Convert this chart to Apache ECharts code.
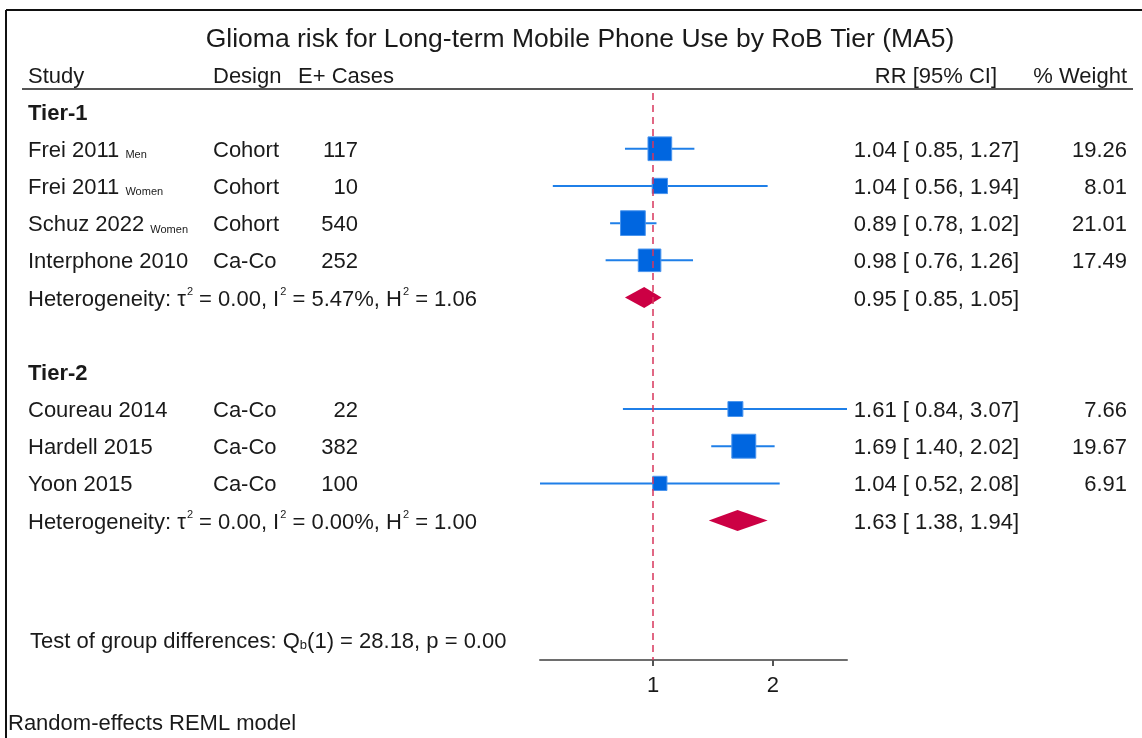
<!DOCTYPE html>
<html>
<head>
<meta charset="utf-8">
<script src="https://cdn.jsdelivr.net/npm/echarts@6/dist/echarts.min.js"></script>
<style>
  html, body { margin: 0; padding: 0; background: #fff; }
  #chart { width: 1142px; height: 738px; }
</style>
</head>
<body>
<div id="chart"></div>
<script>
// study rows
const studies = ['Frei 2011', 'Frei 2011', 'Schuz 2022', 'Interphone 2010', 'Coureau 2014', 'Hardell 2015', 'Yoon 2015']
const subgroups = ['Men', 'Women', 'Women', '', '', '', '']
const designs = ['Cohort', 'Cohort', 'Cohort', 'Ca-Co', 'Ca-Co', 'Ca-Co', 'Ca-Co']
const cases = [117, 10, 540, 252, 22, 382, 100]
const rr = [1.04, 1.04, 0.89, 0.98, 1.61, 1.69, 1.04]
const lower = [0.85, 0.56, 0.78, 0.76, 0.84, 1.40, 0.52]
const upper = [1.27, 1.94, 1.02, 1.26, 3.07, 2.02, 2.08]
const weights = [19.26, 8.01, 21.01, 17.49, 7.66, 19.67, 6.91]
const studyRows = [1, 2, 3, 4, 8, 9, 10]

// subgroup rows
const tiers = ['Tier-1', 'Tier-2']
const tierRows = [0, 7]
const pooledRR = [0.95, 1.63]
const pooledLower = [0.85, 1.38]
const pooledUpper = [1.05, 1.94]
const pooledRows = [5, 11]
const hetTau2 = ['0.00', '0.00']
const hetI2 = ['5.47%', '0.00%']
const hetH2 = ['1.06', '1.00']

const xTicks = [1, 2]
const xMin = 0.52
const xMax = 3.07

const FONT = '"Liberation Sans", Arial, sans-serif'
const TXT = '#1a1a1a'
const COL = { study: 28, design: 213, cases: 358, rr: 1019, weight: 1127 }

const chart = echarts.init(document.getElementById('chart'))

// canvas 'middle' sits a little high, nudge text down
function text(x, y, str, align, extra) {
  return {
    type: 'text', x: x, y: y + 2, silent: true,
    style: Object.assign({
      text: str, fill: TXT, fontFamily: FONT, fontSize: 22,
      align: align || 'left', verticalAlign: 'middle'
    }, extra || {})
  }
}

const supRich = {
  t: { fontFamily: FONT, fontSize: 22, color: TXT, lineHeight: 26 },
  p: { fontFamily: FONT, fontSize: 11, color: TXT, lineHeight: 26, verticalAlign: 'top', padding: [0, 0, 0, 1] },
  s: { fontFamily: FONT, fontSize: 11, color: TXT, verticalAlign: 'bottom', padding: [0, 0, 3, 0] },
  b: { fontFamily: FONT, fontSize: 13, color: TXT, verticalAlign: 'bottom', padding: [0, 0, 3, 0] }
}

const fmt = v => v.toFixed(2)

const studyData = rr.map((v, i) => [v, studyRows[i], lower[i], upper[i], weights[i]])
const pooledData = pooledRR.map((v, i) => [v, pooledRows[i], pooledLower[i], pooledUpper[i]])

const option = {
  animation: false,
  grid: { left: 540, right: 295, top: 93, bottom: 78 },
  xAxis: {
    type: 'log',
    logBase: 2,
    min: xMin,
    max: xMax,
    position: 'bottom',
    axisLine: { onZero: false, lineStyle: { color: '#6e6e6e', width: 2 } },
    axisTick: { customValues: xTicks, length: 6, lineStyle: { color: '#555', width: 2 } },
    axisLabel: { customValues: xTicks, fontSize: 22, color: TXT, fontFamily: FONT, margin: 15 },
    splitLine: { show: false },
    minorTick: { show: false }
  },
  yAxis: { type: 'value', inverse: true, min: -0.5, max: 14.75, show: false },
  graphic: [
    { type: 'line', shape: { x1: 6, y1: 10, x2: 1142, y2: 10 }, style: { stroke: '#111', lineWidth: 2 } },
    { type: 'line', shape: { x1: 6, y1: 10, x2: 6, y2: 738 }, style: { stroke: '#111', lineWidth: 2 } },
    { type: 'line', shape: { x1: 22, y1: 89, x2: 1133, y2: 89 }, style: { stroke: '#555', lineWidth: 2 } },
    text(580, 38, 'Glioma risk for Long-term Mobile Phone Use by RoB Tier (MA5)', 'center', { fontSize: 26.5 }),
    text(COL.study, 75, 'Study'),
    text(COL.design, 75, 'Design'),
    text(298, 75, 'E+ Cases'),
    text(997, 75, 'RR [95% CI]', 'right'),
    text(COL.weight, 75, '% Weight', 'right'),
    text(30, 640, '{t|Test of group differences: Q}{b|b}{t|(1) = 28.18, p = 0.00}', 'left', { rich: supRich }),
    text(8, 722, 'Random-effects REML model')
  ],
  series: [
    {
      // study estimates: CI line + weighted square
      type: 'custom',
      data: studyData,
      encode: { x: 0, y: 1 },
      clip: false,
      renderItem: function (params, api) {
        const row = api.value(1)
        const c = api.coord([api.value(0), row])
        const l = api.coord([api.value(2), row])
        const u = api.coord([api.value(3), row])
        const s = 5.4 * Math.sqrt(api.value(4))
        return {
          type: 'group',
          children: [
            { type: 'line', shape: { x1: l[0], y1: c[1], x2: u[0], y2: c[1] }, style: { stroke: '#1f7fe8', lineWidth: 2 } },
            { type: 'rect', shape: { x: c[0] - s / 2, y: c[1] - s / 2, width: s, height: s }, style: { fill: '#0066e0', stroke: '#4a95ee', lineWidth: 1 } }
          ]
        }
      },
      markLine: {
        silent: true,
        symbol: 'none',
        label: { show: false },
        lineStyle: { color: '#d8365c', width: 1.5, type: [7, 5] },
        data: [{ xAxis: 1 }]
      },
      z: 3
    },
    {
      // pooled estimates: diamonds
      type: 'custom',
      data: pooledData,
      encode: { x: 0, y: 1 },
      clip: false,
      renderItem: function (params, api) {
        const row = api.value(1)
        const c = api.coord([api.value(0), row])
        const l = api.coord([api.value(2), row])
        const u = api.coord([api.value(3), row])
        const h = 10.5
        return {
          type: 'polygon',
          shape: { points: [[l[0], c[1]], [c[0], c[1] - h], [u[0], c[1]], [c[0], c[1] + h]] },
          style: { fill: '#cc0044' }
        }
      },
      z: 4
    },
    {
      // table text for each study row
      type: 'custom',
      data: studyData,
      encode: { x: 0, y: 1 },
      clip: false,
      silent: true,
      renderItem: function (params, api) {
        const i = params.dataIndex
        const y = api.coord([1, studyRows[i]])[1]
        const name = subgroups[i]
          ? '{t|' + studies[i] + ' }{s|' + subgroups[i] + '}'
          : '{t|' + studies[i] + '}'
        return {
          type: 'group',
          children: [
            text(COL.study, y, name, 'left', { rich: supRich }),
            text(COL.design, y, designs[i]),
            text(COL.cases, y, String(cases[i]), 'right'),
            text(COL.rr, y, fmt(rr[i]) + ' [ ' + fmt(lower[i]) + ', ' + fmt(upper[i]) + ']', 'right'),
            text(COL.weight, y, fmt(weights[i]), 'right')
          ]
        }
      }
    },
    {
      // tier headers, heterogeneity and pooled text
      type: 'custom',
      data: pooledData,
      encode: { x: 0, y: 1 },
      clip: false,
      silent: true,
      renderItem: function (params, api) {
        const i = params.dataIndex
        const yTier = api.coord([1, tierRows[i]])[1]
        const y = api.coord([1, pooledRows[i]])[1]
        const het = '{t|Heterogeneity: τ}{p|2}{t| = ' + hetTau2[i] + ', I}{p|2}{t| = ' + hetI2[i] + ', H}{p|2}{t| = ' + hetH2[i] + '}'
        return {
          type: 'group',
          children: [
            text(COL.study, yTier, tiers[i], 'left', { fontWeight: 'bold' }),
            text(COL.study, y, het, 'left', { rich: supRich }),
            text(COL.rr, y, fmt(pooledRR[i]) + ' [ ' + fmt(pooledLower[i]) + ', ' + fmt(pooledUpper[i]) + ']', 'right')
          ]
        }
      }
    }
  ]
}

chart.setOption(option)
</script>
</body>
</html>
